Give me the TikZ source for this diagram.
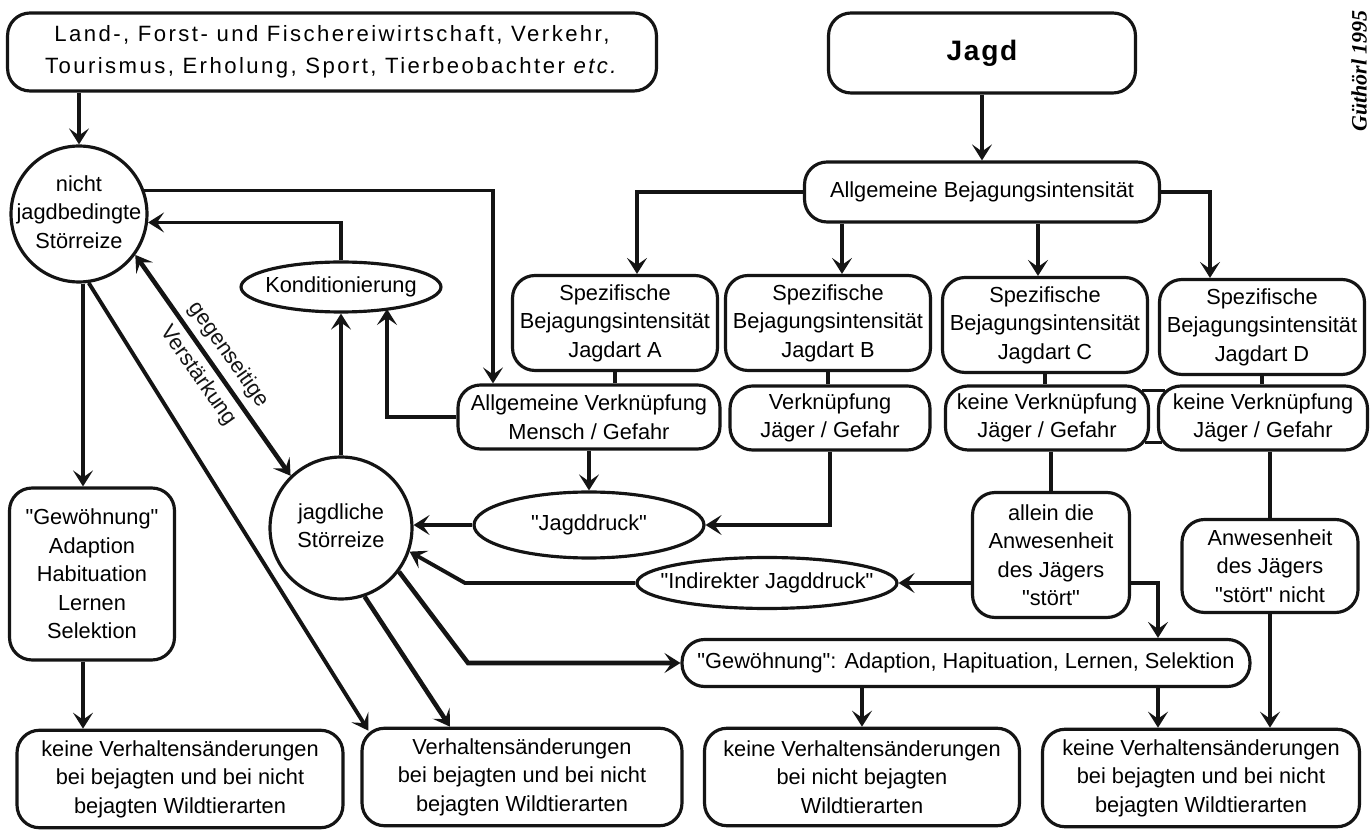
\documentclass[tikz,border=0pt]{standalone}
\usepackage{fontspec}
\setmainfont{Liberation Sans}
\newfontfamily\signfont{Liberation Serif}
\usepackage{tikz}
\usetikzlibrary{positioning, arrows.meta, shapes.geometric, calc}
\definecolor{InkColor}{RGB}{20,20,20}
\newcommand{\boxfont}{\fontsize{12.4}{16.2}\selectfont}
\newcommand{\quellenfont}{\fontsize{12.6}{18}\selectfont\addfontfeatures{LetterSpace=11}}
\newcommand{\jagdfont}{\fontsize{16}{18}\selectfont\bfseries\addfontfeatures{LetterSpace=6}}
\newcommand{\fixtext}[1]{\makebox[0pt]{\begin{tabular}{@{}c@{}}#1\end{tabular}}}
\newcommand{\qq}[1]{\textquotedbl#1\textquotedbl}
\tikzstyle{arr} = [line width=1.8pt, InkColor, -{Stealth[length=0.32cm, width=0.4cm, inset=0.14cm]}]
\tikzstyle{mid} = [arr, line width=2.2pt]
\tikzstyle{heavy} = [arr, line width=2.6pt]
\tikzstyle{dbl} = [heavy, {Stealth[length=0.32cm, width=0.4cm, inset=0.14cm]}-{Stealth[length=0.32cm, width=0.4cm, inset=0.14cm]}]
\tikzstyle{link} = [line width=1.8pt, InkColor]
\tikzset{
  box/.style={draw=InkColor, line width=1.8pt, rounded corners=0.45cm, align=center, font=\boxfont, inner sep=2pt},
  oval/.style={draw=InkColor, line width=1.8pt, ellipse, font=\boxfont, inner sep=0pt},
  reiz/.style={draw=InkColor, line width=1.8pt, circle, font=\boxfont, inner sep=0pt},
  spez/.style={box, minimum width=4.1cm, minimum height=1.9cm},
  verkn/.style={box, minimum height=1.28cm},
  ende/.style={box, minimum height=1.95cm}
}
\begin{document}
\begin{tikzpicture}[x=0.02cm, y=-0.02cm]
                \fill[white] (0,0) rectangle (1370,837);
                \useasboundingbox (0,0) rectangle (1370,837);

                % Sources of disturbance
                \node[box, minimum width=12.98cm, minimum height=1.56cm, font=\quellenfont] (quellen) at (332,52) {Land-, Forst- und Fischereiwirtschaft, Verkehr,\\Tourismus, Erholung, Sport, Tierbeobachter \textit{etc.}};
                \node[box, minimum width=6.14cm, minimum height=1.6cm, font=\jagdfont] (jagd) at (982,53) {Jagd};
                \node[rotate=90, font={\signfont\bfseries\itshape\fontsize{12.5}{14}\selectfont}] (sign) at (1359,71) {Güthörl 1995};

                % Hunting intensity
                \node[box, minimum width=7.1cm, minimum height=1.2cm] (allgbej) at (982,192) {Allgemeine Bejagungsintensität};
                \node[spez] (spezA) at (615,323) {Spezifische\\Bejagungsintensität\\Jagdart A};
                \node[spez] (spezB) at (828,323) {Spezifische\\Bejagungsintensität\\Jagdart B};
                \node[spez] (spezC) at (1045,325) {Spezifische\\Bejagungsintensität\\Jagdart C};
                \node[spez] (spezD) at (1262,327) {Spezifische\\Bejagungsintensität\\Jagdart D};

                % Associations
                \node[verkn, minimum width=5.24cm] (verknA) at (589,417) {Allgemeine Verknüpfung\\Mensch / Gefahr};
                \node[verkn, minimum width=4cm] (verknB) at (830,418) {Verknüpfung\\Jäger / Gefahr};
                \node[verkn, minimum width=4.06cm] (keineC) at (1047,418) {keine Verknüpfung\\Jäger / Gefahr};
                \node[verkn, minimum width=4.18cm] (keineD) at (1263,418) {keine Verknüpfung\\Jäger / Gefahr};

                % Stimuli and pressure
                \node[reiz, minimum size=2.72cm] (nicht) at (79,214) {\fixtext{nicht\\jagdbedingte\\Störreize}};
                \node[reiz, minimum size=2.84cm] (jagdl) at (341,528) {\fixtext{jagdliche\\Störreize}};
                \node[oval, minimum width=4cm, minimum height=1cm] (kond) at (341,287) {\fixtext{Konditionierung}};
                \node[oval, minimum width=4.6cm, minimum height=1.32cm] (jagddruck) at (589,525) {\fixtext{\qq{Jagddruck}}};
                \node[oval, minimum width=5.2cm, minimum height=1.02cm] (indirekt) at (767,583) {\fixtext{\qq{Indirekter Jagddruck}}};
                \node[box, minimum width=3.14cm, minimum height=2.5cm] (allein) at (1051,555) {allein die\\Anwesenheit\\des Jägers\\\qq{stört}};
                \node[box, minimum width=3.52cm, minimum height=1.86cm] (anwes) at (1270,566) {Anwesenheit\\des Jägers\\\qq{stört} nicht};

                % Habituation
                \node[box, minimum width=3.3cm, minimum height=3.44cm] (gewA) at (92,574) {\qq{Gewöhnung}\\Adaption\\Habituation\\Lernen\\Selektion};
                \node[box, minimum width=11.36cm, minimum height=0.94cm] (gewB) at (966,663) {\qq{Gewöhnung}: Adaption, Hapituation, Lernen, Selektion};

                % Outcomes
                \node[ende, minimum width=6.52cm] (endA) at (180,779) {keine Verhaltensänderungen\\bei bejagten und bei nicht\\bejagten Wildtierarten};
                \node[ende, minimum width=6.4cm] (endB) at (522,777) {Verhaltensänderungen\\bei bejagten und bei nicht\\bejagten Wildtierarten};
                \node[ende, minimum width=6.3cm] (endC) at (862,777) {keine Verhaltensänderungen\\bei nicht bejagten\\Wildtierarten};
                \node[ende, minimum width=6.34cm] (endD) at (1201,778) {keine Verhaltensänderungen\\bei bejagten und bei nicht\\bejagten Wildtierarten};

                % Bend points
                \coordinate (bA) at (637,0);
                \coordinate (bB) at (842,0);
                \coordinate (bC) at (1038,0);
                \coordinate (bD) at (1210,0);
                \coordinate (kA) at (493,0);
                \coordinate (kB) at (387,309);
                \coordinate (ib) at (465,0);
                \coordinate (jb) at (468,0);
                \coordinate (eb) at (450,0);
                \coordinate (gx) at (1158,0);
                \coordinate (gA) at (83,0);

                % Hunting branch
                \draw[arr] (jagd.south) -- (allgbej.north);
                \draw[arr] (allgbej.west) -| (spezA.north -| bA);
                \draw[arr] (allgbej.south -| bB) -- (spezB.north -| bB);
                \draw[arr] (allgbej.south -| bC) -- (spezC.north -| bC);
                \draw[arr] (allgbej.east) -| (spezD.north -| bD);
                \draw[link] (spezA.south) -- (spezA.south |- verknA.north);
                \draw[link] (spezB.south) -- (spezB.south |- verknB.north);
                \draw[link] (spezC.south) -- (spezC.south |- keineC.north);
                \draw[link] (spezD.south) -- (spezD.south |- keineD.north);
                \draw[link] ($(keineC.north east)+(-8,6)$) -- ($(keineD.north west)+(8,6)$);
                \draw[link] ($(keineC.south east)+(-5,-9)$) -- ($(keineD.south west)+(5,-9)$);

                % Pressure paths
                \draw[arr] (verknA.south) -- (jagddruck.north);
                \draw[arr] (verknB.south) |- (jagddruck.east);
                \draw[mid] (jagddruck.west) -- (jagddruck.west -| jagdl.east);
                \draw[link] (keineC.south -| allein.north) -- (allein.north);
                \draw[arr] (indirekt.east -| allein.west) -- (indirekt.east);
                \draw[mid] (indirekt.west) -- (indirekt.west -| ib) -- (jagdl.-19);
                \draw[arr] (indirekt.east -| allein.east) -| (gewB.north -| gx);
                \draw[link] (keineD.south -| anwes.north) -- (anwes.north);

                % Non-hunting stimuli
                \draw[arr] (quellen.south -| nicht) -- (nicht.north);
                \draw[arr] (nicht.20) -| (verknA.north -| kA);
                \draw[arr] (verknA.west) -| (kB);
                \draw[arr] (jagdl.north) -- (kond.south);
                \draw[arr] (kond.north) |- (nicht.-7);
                \draw[dbl] (nicht.-36) -- node[sloped, pos=0.5, align=center, font={\fontsize{12.4}{21}\selectfont}] {gegenseitige\\Verstärkung} (jagdl.134);

                % Outcome arrows
                \draw[arr] (nicht.south -| gA) -- (gewA.north -| gA);
                \draw[arr] (gewA.south -| gA) -- (endA.north -| gA);
                \draw[mid] (nicht.-82) -- ($(endB.north west)+(8,4)$);
                \draw[heavy] (jagdl.-71) -- (endB.north -| eb);
                \draw[heavy] (jagdl.-37) -- (gewB.west -| jb) -- (gewB.west);
                \draw[arr] (gewB.south -| endC.north) -- (endC.north);
                \draw[arr] (gewB.south -| gx) -- (endD.north -| gx);
                \draw[arr] (anwes.south) -- (anwes.south |- endD.north);
            \end{tikzpicture}
\end{document}
